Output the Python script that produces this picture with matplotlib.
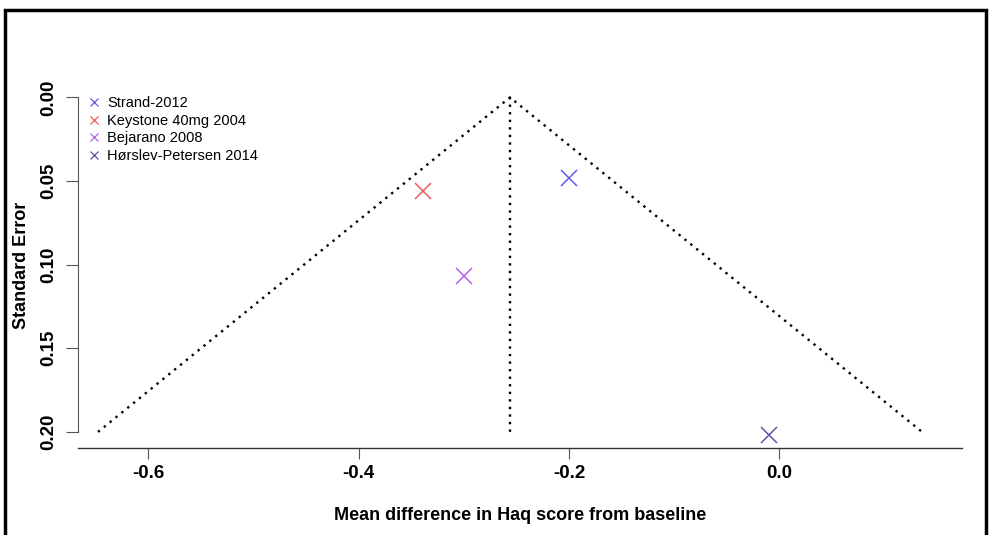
import matplotlib.pyplot as plt
from matplotlib.patches import Rectangle

# study results (mean difference, standard error)
studies = ["Strand-2012", "Keystone 40mg 2004", "Bejarano 2008", "Hørslev-Petersen 2014"]
mean_diff = [-0.200, -0.339, -0.300, -0.010]
std_err = [0.048, 0.056, 0.107, 0.202]
colors = ["#5c5cf0", "#f05a5a", "#b060ee", "#5858a8"]

pooled = -0.256
se_max = 0.20
x_ticks = [-0.6, -0.4, -0.2, 0.0]
y_ticks = [0.00, 0.05, 0.10, 0.15, 0.20]

plt.rcParams['font.family'] = ['Liberation Sans', 'DejaVu Sans']

fig = plt.figure(figsize=(9.89, 5.35), dpi=100)
ax = fig.add_axes([78 / 989, 1 - 448 / 535, (962 - 78) / 989, (448 - 84) / 535])

# funnel lines
ax.plot([pooled - 1.96 * se_max, pooled, pooled + 1.96 * se_max], [se_max, 0, se_max],
        color="black", linestyle=(0, (1, 2.2)), linewidth=1.7)
ax.plot([pooled, pooled], [0, se_max + 0.003], color="black", linestyle=(0, (1, 2.2)), linewidth=1.7)

for name, x, y, c in zip(studies, mean_diff, std_err, colors):
    ax.plot(x, y, marker="x", color=c, markersize=12, markeredgewidth=1.1, linestyle="none")

ax.set_xlim(-0.667, 0.174)
ax.set_ylim(0.2096, -0.008)

for side in ["top", "right"]:
    ax.spines[side].set_visible(False)
ax.spines["bottom"].set_linewidth(1.0)
ax.spines["bottom"].set_color("#333333")
ax.spines["left"].set_bounds(0.0, 0.20)
ax.spines["left"].set_linewidth(0.8)
ax.spines["left"].set_color("#555555")

ax.set_xticks(x_ticks)
ax.set_xticklabels(["%.1f" % v for v in x_ticks], fontsize=13.5, fontweight="bold")
ax.set_yticks(y_ticks)
ax.set_yticklabels(["%.2f" % v for v in y_ticks], fontsize=13.5, fontweight="bold",
                   rotation=90, va="center")
ax.tick_params(axis="x", length=8, width=0.8, color="#555555", pad=4)
ax.tick_params(axis="y", length=9, width=0.8, color="#555555", pad=6)

ax.set_xlabel("Mean difference in Haq score from baseline", fontsize=13, fontweight="bold", labelpad=18)
ax.set_ylabel("Standard Error", fontsize=13, fontweight="bold")
ax.yaxis.set_label_coords(-0.054, 0.503)

# legend
handles = [plt.Line2D([], [], marker="x", color=c, linestyle="none", markersize=6, markeredgewidth=0.9)
           for c in colors]
ax.legend(handles, studies, loc="upper left", bbox_to_anchor=(0.0, 0.995), frameon=False,
          fontsize=10.5, handlelength=0.8, handletextpad=0.5, labelspacing=0.25, borderaxespad=0.3)

# border around the figure
fig.patches.append(Rectangle((5 / 989, -0.05), (986 - 5) / 989, 1.05 - 10 / 535,
                             transform=fig.transFigure, fill=False, edgecolor="black",
                             linewidth=2.5, zorder=10))

fig.savefig("out.png", dpi=100)
